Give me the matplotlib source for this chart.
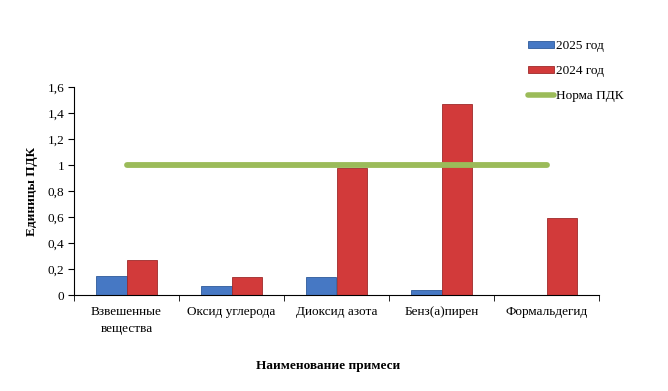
import matplotlib
matplotlib.use("Agg")
import matplotlib.pyplot as plt
import numpy as np
from matplotlib.patches import Rectangle
from matplotlib.lines import Line2D

categories = ["Взвешенные\nвещества", "Оксид углерода", "Диоксид азота", "Бенз(а)пирен", "Формальдегид"]
y2025 = [0.15, 0.07, 0.14, 0.04, 0.0]
y2024 = [0.27, 0.14, 0.98, 1.47, 0.59]
norm = [1, 1, 1, 1, 1]
yticks = [0, 0.2, 0.4, 0.6, 0.8, 1.0, 1.2, 1.4, 1.6]
ytick_labels = ["0", "0,2", "0,4", "0,6", "0,8", "1", "1,2", "1,4", "1,6"]

plt.rcParams['font.family'] = ['Liberation Serif', 'DejaVu Serif']

fig = plt.figure(figsize=(6.68, 3.91), dpi=100)
ax = fig.add_axes([74/668, 1-295/391, 525/668, 208/391])

x = np.arange(len(categories))
w = 0.29
blue = "#4678C4"
red = "#D23A3A"
green = "#9BBB59"
ax.bar(x - w/2, y2025, width=w, color=blue, edgecolor="#2E5A9A", linewidth=0.6, zorder=2)
ax.bar(x + w/2, y2024, width=w, color=red, edgecolor="#9E2A2A", linewidth=0.6, zorder=2)
ax.plot(x, norm, color=green, linewidth=4.2, solid_capstyle='round', zorder=3)

ax.set_xlim(-0.5, len(categories) - 0.5)
ax.set_ylim(0, 1.6)
ax.set_yticks(yticks)
ax.set_yticklabels(ytick_labels, fontsize=9.5)
ax.set_xticks(x)
ax.set_xticklabels(categories, fontsize=9.5, linespacing=1.5)
ax.tick_params(axis='x', length=0, pad=8)
ax.set_xticks(np.arange(-0.5, len(categories)), minor=True)
ax.tick_params(axis='x', which='minor', length=4, direction='out')
ax.tick_params(axis='y', length=4, direction='out', pad=3)
for s in ['top', 'right']:
    ax.spines[s].set_visible(False)
ax.set_ylabel("Единицы ПДК", fontsize=9.5, fontweight='bold')
ax.yaxis.set_label_coords(-(74-38)/525, 0.5)
fig.text(328/668, 1-366/391, "Наименование примеси", fontsize=9.5, fontweight='bold', ha='center', va='center')

handles = [
    Rectangle((0, 0), 1, 1, facecolor=blue, edgecolor="#2E5A9A", linewidth=0.6),
    Rectangle((0, 0), 1, 1, facecolor=red, edgecolor="#9E2A2A", linewidth=0.6),
    Line2D([0], [0], color=green, linewidth=4, solid_capstyle='round'),
]
leg = fig.legend(handles, ["2025 год", "2024 год", "Норма ПДК"], loc='upper left',
                 bbox_to_anchor=(516/668, 1-28/391), frameon=False, fontsize=9.5,
                 handlelength=2.0, handleheight=0.45, handletextpad=0.15, labelspacing=1.0)

fig.savefig("out.png", dpi=100)
